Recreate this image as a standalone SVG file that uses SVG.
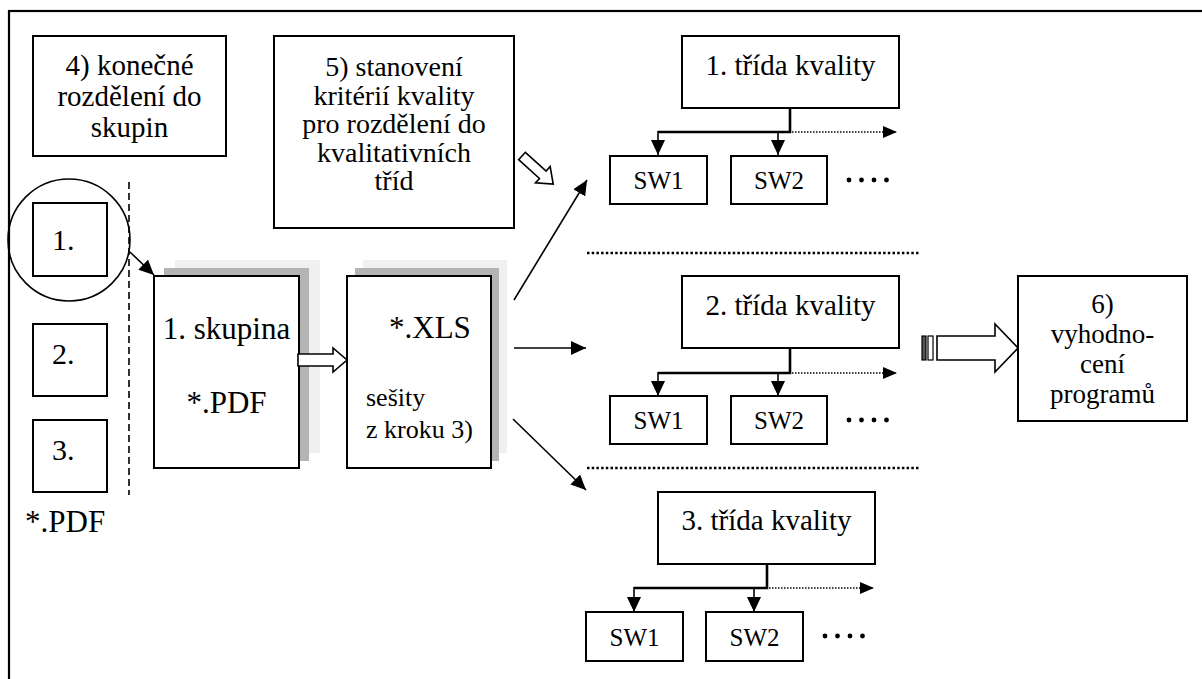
<svg xmlns="http://www.w3.org/2000/svg" width="1202" height="679" viewBox="0 0 1202 679">
  <style>
    text { font-family: "Liberation Serif", "Times New Roman", serif; fill: #000; }
    .box { fill: #fff; stroke: #000; stroke-width: 2; }
    .t29 { font-size: 29px; text-anchor: middle; }
    .t28 { font-size: 28px; text-anchor: middle; }
    .t31 { font-size: 31px; text-anchor: middle; }
    .t27 { font-size: 27px; text-anchor: middle; }
    .sw { font-size: 25px; text-anchor: middle; }
    .small { font-size: 26px; }
    .line { fill: none; stroke: #000; stroke-width: 1.6; }
    .thick { fill: none; stroke: #000; stroke-width: 2.6; }
    .dotted { fill: none; stroke: #000; stroke-width: 1.5; stroke-dasharray: 1.5 1.5; }
    .sep { fill: none; stroke: #000; stroke-width: 2.5; stroke-dasharray: 2.5 2.2; }
    .dashed { fill: none; stroke: #000; stroke-width: 1.6; stroke-dasharray: 7 4; }
    .hollow { fill: #fff; stroke: #000; stroke-width: 1.6; stroke-linejoin: miter; }
    .shade1 { fill: #f0f0f0; }
    .shade2 { fill: #b4b4b4; }
  </style>
  <defs>
    <marker id="arr" viewBox="0 0 15 14" refX="15" refY="7" markerWidth="15" markerHeight="14" markerUnits="userSpaceOnUse" orient="auto">
      <path d="M0,0 L15,7 L0,14 Z" fill="#000"/>
    </marker>
    <marker id="arrS" viewBox="0 0 14 12" refX="14" refY="6" markerWidth="14" markerHeight="12" markerUnits="userSpaceOnUse" orient="auto">
      <path d="M0,0 L14,6 L0,12 Z" fill="#000"/>
    </marker>
    <g id="dots4">
      <circle cx="0" cy="0" r="2.4"/>
      <circle cx="12.5" cy="0" r="2.4"/>
      <circle cx="25" cy="0" r="2.4"/>
      <circle cx="37.5" cy="0" r="2.4"/>
    </g>
  </defs>

  <!-- frame -->
  <rect x="9" y="11" width="1200" height="680" fill="#fff" stroke="#000" stroke-width="2.2"/>

  <!-- step 4 -->
  <g id="step4">
    <rect class="box" x="33" y="36" width="193" height="120"/>
    <text class="t29" x="129.5" y="75">4) konečné</text>
    <text class="t29" x="129.5" y="106">rozdělení do</text>
    <text class="t29" x="129.5" y="137">skupin</text>
  </g>

  <!-- step 5 -->
  <g id="step5">
    <rect class="box" x="274" y="36" width="240" height="192"/>
    <text class="t28" x="394" y="76">5) stanovení</text>
    <text class="t28" x="394" y="104.5">kritérií kvality</text>
    <text class="t28" x="394" y="133">pro rozdělení do</text>
    <text class="t28" x="394" y="161.5">kvalitativních</text>
    <text class="t28" x="394" y="190">tříd</text>
  </g>

  <!-- groups 1..3 -->
  <g id="group1">
    <circle cx="69" cy="240" r="61" fill="none" stroke="#000" stroke-width="1.6"/>
    <rect class="box" x="33" y="203" width="74" height="73"/>
    <text class="small" x="52" y="250" style="font-size:30px">1.</text>
  </g>
  <g id="group2">
    <rect class="box" x="33" y="324" width="74" height="72"/>
    <text x="52" y="364" style="font-size:30px">2.</text>
  </g>
  <g id="group3">
    <rect class="box" x="33" y="420" width="74" height="72"/>
    <text x="52" y="460" style="font-size:30px">3.</text>
  </g>
  <text id="pdf-label" x="25" y="532" style="font-size:31px">*.PDF</text>
  <line class="dashed" x1="129" y1="182" x2="129" y2="495"/>

  <!-- 1. skupina -->
  <g id="skupina">
    <rect class="shade1" x="175" y="260" width="145" height="193"/>
    <rect class="shade2" x="164" y="268" width="145" height="193"/>
    <rect class="box" x="154" y="276" width="145" height="192"/>
    <text class="t31" x="226.5" y="339">1. skupina</text>
    <text class="t31" x="226.5" y="413">*.PDF</text>
  </g>

  <!-- *.XLS -->
  <g id="xls">
    <rect class="shade1" x="363" y="260" width="144" height="193"/>
    <rect class="shade2" x="355" y="268" width="144" height="193"/>
    <rect class="box" x="347" y="276" width="144" height="192"/>
    <text x="389" y="338" style="font-size:31px">*.XLS</text>
    <text class="small" x="366" y="406">sešity</text>
    <text class="small" x="366" y="438">z kroku 3)</text>
  </g>

  <!-- quality classes -->
  <g id="class1">
    <rect class="box" x="682" y="36" width="217" height="72"/>
    <text class="t29" x="790.5" y="75">1. třída kvality</text>
  </g>
  <g id="class1-sw1">
    <rect class="box" x="610" y="156" width="97" height="48"/>
    <text class="sw" x="658.5" y="189">SW1</text>
  </g>
  <g id="class1-sw2">
    <rect class="box" x="731" y="156" width="96" height="48"/>
    <text class="sw" x="779" y="189">SW2</text>
  </g>
  <use href="#dots4" x="849" y="180"/>

  <g id="class2">
    <rect class="box" x="682" y="276" width="217" height="72"/>
    <text class="t29" x="790.5" y="315">2. třída kvality</text>
  </g>
  <g id="class2-sw1">
    <rect class="box" x="610" y="396" width="97" height="48"/>
    <text class="sw" x="658.5" y="429">SW1</text>
  </g>
  <g id="class2-sw2">
    <rect class="box" x="731" y="396" width="96" height="48"/>
    <text class="sw" x="779" y="429">SW2</text>
  </g>
  <use href="#dots4" x="849" y="420"/>

  <g id="class3">
    <rect class="box" x="658" y="492" width="217" height="72"/>
    <text class="t29" x="766.5" y="530">3. třída kvality</text>
  </g>
  <g id="class3-sw1">
    <rect class="box" x="586" y="612" width="97" height="49"/>
    <text class="sw" x="634.5" y="646">SW1</text>
  </g>
  <g id="class3-sw2">
    <rect class="box" x="706" y="612" width="97" height="49"/>
    <text class="sw" x="754.5" y="646">SW2</text>
  </g>
  <use href="#dots4" x="825" y="636"/>

  <!-- step 6 -->
  <g id="step6">
    <rect class="box" x="1018" y="276" width="169" height="145"/>
    <text class="t27" x="1102.5" y="313">6)</text>
    <text class="t27" x="1102.5" y="343">vyhodno-</text>
    <text class="t27" x="1102.5" y="373">cení</text>
    <text class="t27" x="1102.5" y="403">programů</text>
  </g>

  <!-- separators -->
  <line class="sep" x1="587" y1="253" x2="920" y2="253"/>
  <line class="sep" x1="587" y1="468" x2="920" y2="468"/>

  <!-- connectors -->
  <g id="connectors">
    <line class="line" x1="130" y1="252" x2="154" y2="275" marker-end="url(#arr)"/>
    <path class="hollow" d="M298,354 H333 V348 L347,360 L333,372 V366 H298 Z"/>
    <path class="hollow" transform="translate(522,156) rotate(42)" d="M0,-5 L28,-5 L28,-11 L42,0 L28,11 L28,5 L0,5 Z"/>

    <line class="line" x1="514" y1="300" x2="587" y2="180" marker-end="url(#arr)"/>
    <line class="line" x1="514" y1="348" x2="586" y2="348" marker-end="url(#arr)"/>
    <line class="line" x1="513" y1="419" x2="586" y2="490" marker-end="url(#arr)"/>

    <!-- class 1 branches -->
    <path class="thick" d="M790,108 V132 H658"/>
    <line class="line" x1="658" y1="131" x2="658" y2="155" marker-end="url(#arr)"/>
    <line class="line" x1="778" y1="131" x2="778" y2="155" marker-end="url(#arr)"/>
    <line class="dotted" x1="792" y1="132" x2="897" y2="132" marker-end="url(#arrS)"/>

    <!-- class 2 branches -->
    <path class="thick" d="M790,348 V373 H658"/>
    <line class="line" x1="658" y1="372" x2="658" y2="396" marker-end="url(#arr)"/>
    <line class="line" x1="778" y1="372" x2="778" y2="396" marker-end="url(#arr)"/>
    <line class="dotted" x1="792" y1="373" x2="897" y2="373" marker-end="url(#arrS)"/>

    <!-- class 3 branches -->
    <path class="thick" d="M767,564 V588 H634"/>
    <line class="line" x1="634" y1="587" x2="634" y2="612" marker-end="url(#arr)"/>
    <line class="line" x1="754" y1="587" x2="754" y2="612" marker-end="url(#arr)"/>
    <line class="dotted" x1="769" y1="588" x2="874" y2="588" marker-end="url(#arrS)"/>

    <!-- to evaluation -->
    <rect x="922" y="336" width="4" height="24" fill="#555" stroke="#000" stroke-width="1.2"/>
    <rect x="928" y="336" width="5" height="24" fill="#fff" stroke="#000" stroke-width="1.2"/>
    <path class="hollow" d="M937,336 H995 V324 L1018,348 L995,372 V360 H937 Z"/>
  </g>
</svg>
